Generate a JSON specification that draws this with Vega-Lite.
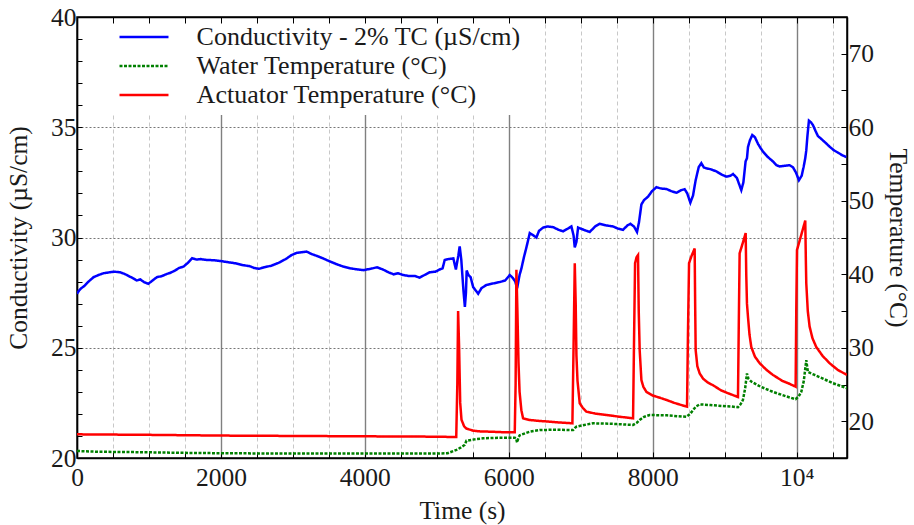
{
  "$schema": "https://vega.github.io/schema/vega-lite/v6.json",
  "width": 770,
  "height": 441,
  "autosize": "none",
  "padding": {"left": 77, "top": 17, "right": 67, "bottom": 67},
  "background": "white",
  "datasets": {
    "cond": [
      {"t":0,"v":27.45},{"t":30,"v":27.6},{"t":60,"v":27.7},{"t":100,"v":27.8},{"t":160,"v":28.0},{"t":230,"v":28.2},{"t":300,"v":28.3},{"t":370,"v":28.38},{"t":450,"v":28.42},{"t":520,"v":28.45},{"t":600,"v":28.42},{"t":660,"v":28.35},{"t":720,"v":28.25},{"t":780,"v":28.15},{"t":830,"v":28.05},{"t":880,"v":28.1},{"t":930,"v":27.98},{"t":990,"v":27.9},{"t":1050,"v":28.05},{"t":1110,"v":28.2},{"t":1180,"v":28.25},{"t":1250,"v":28.35},{"t":1300,"v":28.4},{"t":1360,"v":28.5},{"t":1420,"v":28.62},{"t":1480,"v":28.68},{"t":1540,"v":28.85},{"t":1600,"v":29.06},{"t":1660,"v":29.0},{"t":1720,"v":29.02},{"t":1800,"v":28.98},{"t":1900,"v":28.97},{"t":2000,"v":28.93},{"t":2100,"v":28.88},{"t":2200,"v":28.83},{"t":2300,"v":28.75},{"t":2400,"v":28.7},{"t":2460,"v":28.62},{"t":2530,"v":28.58},{"t":2600,"v":28.65},{"t":2700,"v":28.72},{"t":2800,"v":28.85},{"t":2900,"v":29.02},{"t":2980,"v":29.2},{"t":3050,"v":29.3},{"t":3120,"v":29.33},{"t":3190,"v":29.36},{"t":3260,"v":29.25},{"t":3330,"v":29.17},{"t":3420,"v":29.05},{"t":3510,"v":28.92},{"t":3600,"v":28.8},{"t":3700,"v":28.68},{"t":3800,"v":28.6},{"t":3900,"v":28.55},{"t":3980,"v":28.52},{"t":4080,"v":28.58},{"t":4170,"v":28.65},{"t":4250,"v":28.55},{"t":4330,"v":28.42},{"t":4400,"v":28.33},{"t":4460,"v":28.38},{"t":4530,"v":28.3},{"t":4620,"v":28.25},{"t":4700,"v":28.25},{"t":4760,"v":28.18},{"t":4830,"v":28.3},{"t":4900,"v":28.42},{"t":4980,"v":28.45},{"t":5040,"v":28.55},{"t":5080,"v":28.6},{"t":5110,"v":28.98},{"t":5160,"v":29.02},{"t":5230,"v":29.05},{"t":5265,"v":28.55},{"t":5300,"v":29.2},{"t":5318,"v":29.6},{"t":5340,"v":29.0},{"t":5370,"v":27.6},{"t":5390,"v":26.85},{"t":5405,"v":27.5},{"t":5415,"v":28.5},{"t":5440,"v":28.3},{"t":5470,"v":28.2},{"t":5505,"v":27.75},{"t":5540,"v":27.6},{"t":5575,"v":27.45},{"t":5620,"v":27.7},{"t":5690,"v":27.85},{"t":5760,"v":27.9},{"t":5830,"v":27.95},{"t":5875,"v":27.98},{"t":5950,"v":28.05},{"t":6014,"v":28.3},{"t":6060,"v":28.15},{"t":6090,"v":28.0},{"t":6116,"v":27.7},{"t":6150,"v":28.3},{"t":6176,"v":28.6},{"t":6210,"v":29.1},{"t":6245,"v":29.55},{"t":6292,"v":30.2},{"t":6330,"v":30.12},{"t":6384,"v":30.0},{"t":6420,"v":30.3},{"t":6477,"v":30.45},{"t":6540,"v":30.5},{"t":6616,"v":30.47},{"t":6690,"v":30.35},{"t":6755,"v":30.28},{"t":6820,"v":30.4},{"t":6870,"v":30.5},{"t":6900,"v":30.1},{"t":6917,"v":29.55},{"t":6940,"v":29.8},{"t":6963,"v":30.45},{"t":7040,"v":30.35},{"t":7125,"v":30.25},{"t":7200,"v":30.5},{"t":7264,"v":30.62},{"t":7350,"v":30.55},{"t":7449,"v":30.5},{"t":7520,"v":30.4},{"t":7588,"v":30.35},{"t":7650,"v":30.55},{"t":7690,"v":30.62},{"t":7740,"v":30.5},{"t":7782,"v":30.25},{"t":7810,"v":30.7},{"t":7843,"v":31.5},{"t":7880,"v":31.7},{"t":7935,"v":31.85},{"t":7990,"v":32.1},{"t":8051,"v":32.28},{"t":8120,"v":32.22},{"t":8190,"v":32.2},{"t":8260,"v":32.1},{"t":8329,"v":32.03},{"t":8400,"v":32.15},{"t":8444,"v":32.19},{"t":8480,"v":32.0},{"t":8523,"v":31.58},{"t":8560,"v":31.9},{"t":8597,"v":32.6},{"t":8640,"v":33.2},{"t":8676,"v":33.37},{"t":8710,"v":33.18},{"t":8745,"v":33.14},{"t":8800,"v":33.1},{"t":8884,"v":33.0},{"t":8960,"v":32.85},{"t":9023,"v":32.76},{"t":9080,"v":32.8},{"t":9116,"v":32.88},{"t":9170,"v":32.7},{"t":9231,"v":32.15},{"t":9260,"v":32.5},{"t":9291,"v":33.45},{"t":9310,"v":33.6},{"t":9324,"v":34.1},{"t":9350,"v":34.4},{"t":9384,"v":34.65},{"t":9420,"v":34.55},{"t":9463,"v":34.25},{"t":9500,"v":34.05},{"t":9532,"v":33.9},{"t":9600,"v":33.65},{"t":9671,"v":33.45},{"t":9720,"v":33.28},{"t":9764,"v":33.22},{"t":9830,"v":33.25},{"t":9903,"v":33.28},{"t":9950,"v":33.18},{"t":9990,"v":32.95},{"t":10032,"v":32.6},{"t":10070,"v":32.8},{"t":10097,"v":33.2},{"t":10120,"v":33.6},{"t":10134,"v":33.95},{"t":10150,"v":34.6},{"t":10171,"v":35.3},{"t":10200,"v":35.22},{"t":10227,"v":35.1},{"t":10260,"v":34.85},{"t":10296,"v":34.6},{"t":10350,"v":34.45},{"t":10400,"v":34.3},{"t":10458,"v":34.12},{"t":10520,"v":33.95},{"t":10574,"v":33.85},{"t":10640,"v":33.72},{"t":10690,"v":33.65}
    ],
    "water": [
      {"t":0,"v":15.95},{"t":300,"v":15.85},{"t":800,"v":15.8},{"t":1500,"v":15.7},{"t":2000,"v":15.65},{"t":3000,"v":15.6},{"t":4000,"v":15.6},{"t":5000,"v":15.6},{"t":5150,"v":15.65},{"t":5273,"v":16.1},{"t":5330,"v":16.4},{"t":5389,"v":16.8},{"t":5412,"v":17.35},{"t":5500,"v":17.5},{"t":5643,"v":17.68},{"t":5850,"v":17.75},{"t":6083,"v":17.77},{"t":6100,"v":17.7},{"t":6116,"v":17.1},{"t":6135,"v":17.8},{"t":6153,"v":18.1},{"t":6300,"v":18.6},{"t":6431,"v":18.8},{"t":6650,"v":18.85},{"t":6894,"v":18.8},{"t":6920,"v":19.1},{"t":6940,"v":19.26},{"t":7050,"v":19.5},{"t":7171,"v":19.72},{"t":7450,"v":19.65},{"t":7727,"v":19.5},{"t":7780,"v":19.8},{"t":7819,"v":20.17},{"t":7880,"v":20.6},{"t":7958,"v":20.85},{"t":8200,"v":20.8},{"t":8468,"v":20.6},{"t":8520,"v":21.0},{"t":8560,"v":21.5},{"t":8600,"v":22.0},{"t":8653,"v":22.3},{"t":8800,"v":22.2},{"t":8977,"v":22.07},{"t":9100,"v":22.0},{"t":9185,"v":21.9},{"t":9220,"v":22.3},{"t":9254,"v":22.9},{"t":9285,"v":24.5},{"t":9310,"v":26.5},{"t":9330,"v":25.8},{"t":9370,"v":25.4},{"t":9500,"v":24.7},{"t":9671,"v":24.0},{"t":9850,"v":23.4},{"t":9986,"v":23.0},{"t":10030,"v":23.4},{"t":10065,"v":24.0},{"t":10100,"v":25.5},{"t":10134,"v":28.3},{"t":10157,"v":26.7},{"t":10250,"v":26.3},{"t":10366,"v":25.8},{"t":10500,"v":25.2},{"t":10699,"v":24.5}
    ],
    "act": [
      {"t":0,"v":18.22},{"t":1000,"v":18.15},{"t":2000,"v":18.05},{"t":3000,"v":18.0},{"t":4000,"v":17.95},{"t":5000,"v":17.9},{"t":5270,"v":17.85},{"t":5285,"v":25},{"t":5296,"v":35.0},{"t":5310,"v":30},{"t":5325,"v":22.5},{"t":5343,"v":20.2},{"t":5380,"v":19.3},{"t":5412,"v":19.0},{"t":5505,"v":18.72},{"t":5600,"v":18.62},{"t":5736,"v":18.58},{"t":5900,"v":18.52},{"t":6083,"v":18.49},{"t":6095,"v":25},{"t":6106,"v":40.6},{"t":6120,"v":35},{"t":6135,"v":28},{"t":6150,"v":24},{"t":6175,"v":21.5},{"t":6199,"v":20.4},{"t":6292,"v":20.17},{"t":6420,"v":20.05},{"t":6569,"v":19.94},{"t":6720,"v":19.82},{"t":6884,"v":19.72},{"t":6900,"v":30},{"t":6917,"v":41.5},{"t":6930,"v":36},{"t":6940,"v":29},{"t":6955,"v":25.5},{"t":6986,"v":22.44},{"t":7030,"v":21.8},{"t":7079,"v":21.3},{"t":7200,"v":21.05},{"t":7357,"v":20.85},{"t":7550,"v":20.6},{"t":7727,"v":20.4},{"t":7742,"v":32},{"t":7755,"v":41.5},{"t":7775,"v":42.3},{"t":7796,"v":42.6},{"t":7806,"v":35},{"t":7819,"v":29.7},{"t":7843,"v":25.6},{"t":7870,"v":24.7},{"t":7912,"v":24.0},{"t":8000,"v":23.5},{"t":8100,"v":23.2},{"t":8190,"v":22.9},{"t":8300,"v":22.5},{"t":8400,"v":22.2},{"t":8477,"v":22.0},{"t":8490,"v":32},{"t":8505,"v":41.5},{"t":8540,"v":42.5},{"t":8583,"v":43.5},{"t":8590,"v":36},{"t":8597,"v":29.7},{"t":8620,"v":27.5},{"t":8653,"v":26.5},{"t":8700,"v":25.8},{"t":8760,"v":25.3},{"t":8838,"v":24.9},{"t":8950,"v":24.2},{"t":9050,"v":23.8},{"t":9185,"v":23.3},{"t":9196,"v":33},{"t":9208,"v":42.85},{"t":9250,"v":44.2},{"t":9292,"v":45.6},{"t":9300,"v":40},{"t":9310,"v":36},{"t":9324,"v":34.2},{"t":9345,"v":31.8},{"t":9370,"v":30.1},{"t":9420,"v":28.8},{"t":9486,"v":27.9},{"t":9580,"v":27.0},{"t":9671,"v":26.3},{"t":9800,"v":25.5},{"t":9900,"v":25.1},{"t":9986,"v":24.7},{"t":9995,"v":35},{"t":10005,"v":43.3},{"t":10060,"v":45.2},{"t":10120,"v":47.3},{"t":10128,"v":42},{"t":10134,"v":38.8},{"t":10155,"v":35},{"t":10180,"v":32.9},{"t":10220,"v":31.3},{"t":10273,"v":30.1},{"t":10360,"v":28.9},{"t":10458,"v":27.9},{"t":10570,"v":27.0},{"t":10699,"v":26.3}
    ]
  },
  "layer": [
    {
      "data": {"name": "cond"},
      "mark": {"type": "line", "strokeWidth": 2.5, "clip": true},
      "encoding": {
        "x": {
          "field": "t", "type": "quantitative",
          "scale": {"domain": [0, 10700], "nice": false, "zero": false},
          "axis": {
            "orient": "bottom",
            "title": "Time (s)",
            "values": [0,500,1000,1500,2000,2500,3000,3500,4000,4500,5000,5500,6000,6500,7000,7500,8000,8500,9000,9500,10000,10500],
            "labelExpr": "datum.value % 2000 == 0 ? (datum.value == 10000 ? '10⁴' : format(datum.value, 'd')) : ''",
            "labelOverlap": false,
            "labelFlush": false,
            "tickSize": -6,
            "labelPadding": 13,
            "titlePadding": 8,
            "grid": true,
            "gridColor": {"condition": {"test": "datum.value % 2000 == 0", "value": "#808080"}, "value": "#c8c8c8"},
            "gridDash": {"condition": {"test": "datum.value % 2000 == 0", "value": []}, "value": [4, 3]},
            "gridWidth": {"condition": {"test": "datum.value % 2000 == 0", "value": 1.4}, "value": 1}
          }
        },
        "y": {
          "field": "v", "type": "quantitative",
          "scale": {"domain": [20, 40], "nice": false, "zero": false},
          "axis": {
            "orient": "left",
            "title": "Conductivity (µS/cm)",
            "values": [20,21,22,23,24,25,26,27,28,29,30,31,32,33,34,35,36,37,38,39,40],
            "labelExpr": "datum.value % 5 == 0 ? format(datum.value, 'd') : ''",
            "labelOverlap": false,
            "labelFlush": false,
            "tickSize": -5,
            "labelPadding": 6,
            "titlePadding": 19,
            "grid": true,
            "gridColor": "#777777",
            "gridDash": [2, 2],
            "gridOpacity": {"condition": {"test": "datum.value % 5 == 0 && datum.value > 20 && datum.value < 40", "value": 1}, "value": 0}
          }
        },
        "color": {
          "datum": "Conductivity - 2% TC (µS/cm)", "type": "nominal",
          "scale": {"domain": ["Conductivity - 2% TC (µS/cm)", "Water Temperature  (°C)", "Actuator Temperature (°C)"], "range": ["#0000ff", "#008000", "#ff0000"]},
          "legend": {"title": "\u00a0", "titleOrient": "left", "titleFontSize": 2, "titlePadding": 17}
        },
        "strokeDash": {
          "datum": "Conductivity - 2% TC (µS/cm)", "type": "nominal",
          "scale": {"domain": ["Conductivity - 2% TC (µS/cm)", "Water Temperature  (°C)", "Actuator Temperature (°C)"], "range": [[1, 0], [3, 1.5], [1, 0]]},
          "legend": {"title": "\u00a0", "titleOrient": "left", "titleFontSize": 2, "titlePadding": 17}
        }
      }
    },
    {
      "encoding": {
        "x": {
          "field": "t", "type": "quantitative",
          "axis": {
            "orient": "top",
            "title": null,
            "values": [0,500,1000,1500,2000,2500,3000,3500,4000,4500,5000,5500,6000,6500,7000,7500,8000,8500,9000,9500,10000,10500],
            "labels": false,
            "tickSize": -6,
            "grid": false,
            "zindex": 2
          }
        },
        "y": {
          "field": "v", "type": "quantitative",
          "scale": {"domain": [15, 75], "nice": false, "zero": false},
          "axis": {
            "orient": "right",
            "title": "Temperature  (°C)",
            "values": [20,25,30,35,40,45,50,55,60,65,70],
            "labelExpr": "datum.value % 10 == 0 ? format(datum.value, 'd') : ''",
            "labelOverlap": false,
            "labelFlush": false,
            "tickSize": -6,
            "labelPadding": 7,
            "titlePadding": 11,
            "grid": false
          }
        }
      },
      "layer": [
        {
          "data": {"name": "water"},
          "mark": {"type": "line", "strokeWidth": 2.5, "clip": true},
          "encoding": {
            "color": {"datum": "Water Temperature  (°C)", "type": "nominal"},
            "strokeDash": {"datum": "Water Temperature  (°C)", "type": "nominal"}
          }
        },
        {
          "data": {"name": "act"},
          "mark": {"type": "line", "strokeWidth": 2.5, "clip": true},
          "encoding": {
            "color": {"datum": "Actuator Temperature (°C)", "type": "nominal"},
            "strokeDash": {"datum": "Actuator Temperature (°C)", "type": "nominal"}
          }
        }
      ]
    }
  ],
  "resolve": {"scale": {"y": "independent"}, "axis": {"x": "independent", "y": "independent"}},
  "config": {
    "font": "Liberation Serif, DejaVu Serif, serif",
    "view": {"stroke": "black", "strokeWidth": 1.5},
    "axis": {
      "labelFont": "Liberation Serif, DejaVu Serif, serif",
      "titleFont": "Liberation Serif, DejaVu Serif, serif",
      "labelFontSize": 25.5,
      "titleFontSize": 25.5,
      "titleFontWeight": "normal",
      "labelColor": "#1a1a1a",
      "titleColor": "#1a1a1a",
      "domainColor": "black",
      "domainWidth": 1.5,
      "tickColor": "black",
      "tickWidth": 1
    },
    "legend": {
      "orient": "none",
      "legendX": 30,
      "legendY": 0,
      "padding": 7,
      "fillColor": "white",
      "strokeColor": null,
      "symbolType": "M-5,0H5",
      "symbolSize": 96,
      "symbolStrokeWidth": 2.5,
      "labelOffset": 39.6,
      "labelFont": "Liberation Serif, DejaVu Serif, serif",
      "titleFont": "Liberation Serif, DejaVu Serif, serif",
      "labelFontSize": 26,
      "labelColor": "#1a1a1a",
      "labelLimit": 500,
      "rowPadding": 3,
      "zindex": 1
    }
  }
}
